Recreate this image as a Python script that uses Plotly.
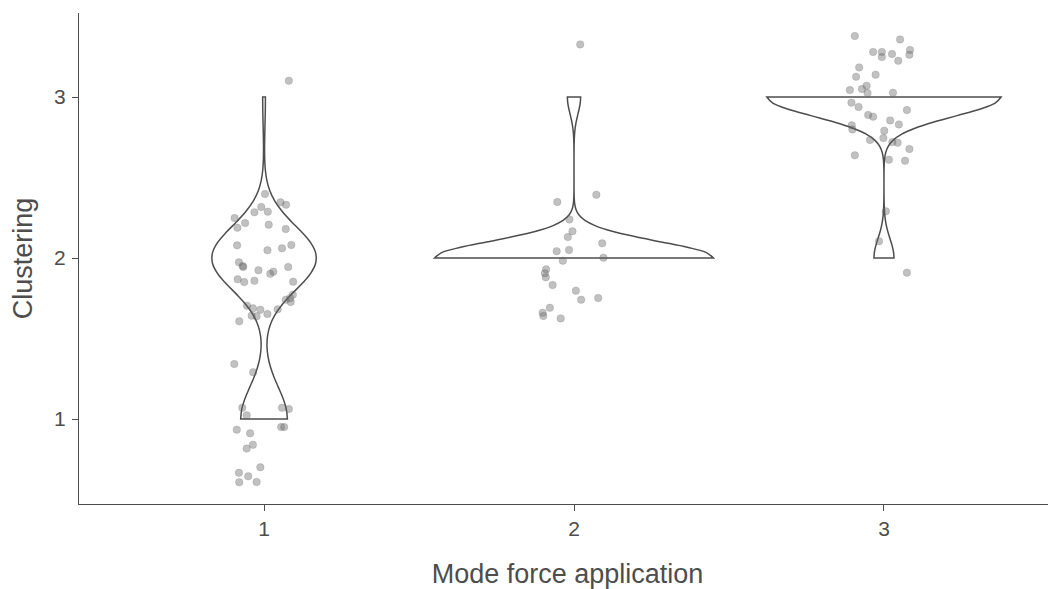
import numpy as np
import plotly.graph_objects as go

g1_x = [1.080, 1.003, 1.053, 1.071, 0.991, 0.969, 1.012, 0.905, 0.914, 0.939,
        1.015, 1.070, 0.913, 1.011, 1.058, 1.088, 0.919, 0.931, 0.933, 0.982,
        1.020, 1.030, 1.078, 0.915, 0.936, 0.969, 1.094, 1.093, 1.084, 1.070,
        1.086, 0.945, 0.964, 0.988, 1.044, 0.960, 0.976, 1.011, 0.920, 0.904,
        0.965, 0.930, 0.944, 1.058, 1.080, 0.912, 0.955, 1.055, 1.065, 0.964,
        0.944, 0.988, 0.919, 0.949, 0.920, 0.976]
g1_y = [3.101, 2.398, 2.346, 2.331, 2.317, 2.284, 2.288, 2.248, 2.188, 2.217,
        2.207, 2.180, 2.079, 2.048, 2.060, 2.081, 1.973, 1.950, 1.944, 1.924,
        1.902, 1.915, 1.944, 1.868, 1.851, 1.859, 1.853, 1.772, 1.750, 1.741,
        1.727, 1.704, 1.688, 1.679, 1.681, 1.642, 1.638, 1.652, 1.607, 1.342,
        1.290, 1.070, 1.023, 1.070, 1.062, 0.934, 0.911, 0.950, 0.950, 0.840,
        0.816, 0.700, 0.666, 0.644, 0.607, 0.609]

g2_x = [2.020, 2.072, 1.946, 1.985, 1.995, 1.980, 2.091, 1.944, 1.984, 2.095,
        1.964, 1.910, 1.906, 1.909, 1.931, 2.006, 2.023, 2.078, 1.922, 1.899,
        1.901, 1.957]
g2_y = [3.327, 2.393, 2.348, 2.240, 2.166, 2.130, 2.091, 2.042, 2.050, 2.002,
        1.983, 1.930, 1.905, 1.880, 1.832, 1.797, 1.741, 1.752, 1.691, 1.660,
        1.640, 1.625]

g3_x = [2.906, 3.052, 2.965, 2.993, 2.993, 3.026, 3.084, 3.082, 3.046, 2.920,
        2.973, 2.910, 2.944, 2.929, 2.890, 2.947, 3.029, 2.895, 2.918, 3.074,
        2.949, 2.965, 3.020, 3.048, 2.896, 2.898, 3.001, 2.998, 2.955, 3.027,
        3.044, 3.082, 2.906, 3.016, 3.068, 3.006, 2.984, 3.074]
g3_y = [3.379, 3.358, 3.280, 3.280, 3.248, 3.267, 3.292, 3.263, 3.225, 3.184,
        3.139, 3.126, 3.070, 3.050, 3.043, 3.025, 3.027, 2.965, 2.938, 2.919,
        2.888, 2.878, 2.855, 2.830, 2.824, 2.799, 2.791, 2.745, 2.733, 2.720,
        2.716, 2.677, 2.638, 2.611, 2.604, 2.290, 2.104, 1.909]

modes = [1, 2, 3]
tick_labels = ["1", "2", "3"]

GREY = "#4d4d4d"
FONT = "Liberation Sans"


def bw_nrd0(v):
    # same rule of thumb as R's density() default
    v = np.asarray(v, dtype=float)
    hi = np.std(v, ddof=1)
    q1, q3 = np.percentile(v, [25, 75])
    lo = min(hi, (q3 - q1) / 1.34)
    if not lo:
        lo = hi
    return 0.9 * lo * len(v) ** -0.2


def kde_max(v, bw):
    v = np.asarray(v, dtype=float)
    grid = np.linspace(v.min(), v.max(), 512)
    d = np.exp(-0.5 * ((grid[:, None] - v[None, :]) / bw) ** 2).sum(axis=1)
    return (d / (len(v) * bw * np.sqrt(2 * np.pi))).max()


groups = [(g1_x, g1_y), (g2_x, g2_y), (g3_x, g3_y)]
scores = [np.round(gy) for _, gy in groups]  # underlying integer scores
bws = [bw_nrd0(s) for s in scores]
peaks = [kde_max(s, b) for s, b in zip(scores, bws)]
top = max(peaks)

fig = go.Figure()

# equal-area violins: width proportional to each peak density
for mode, vals, bw, pk in zip(modes, scores, bws, peaks):
    fig.add_trace(go.Violin(
        x=[mode] * len(vals), y=vals,
        bandwidth=bw,
        spanmode="hard",
        scalemode="width",
        width=0.9 * pk / top,
        points=False,
        fillcolor="white",
        line=dict(color=GREY, width=1.5),
        hoverinfo="skip",
        showlegend=False,
    ))

for gx, gy in groups:
    fig.add_trace(go.Scatter(
        x=gx, y=gy, mode="markers",
        marker=dict(size=7.5, color="rgba(100,100,100,0.4)",
                    line=dict(width=0.6, color="rgba(90,90,90,0.3)")),
        hoverinfo="skip",
        showlegend=False,
    ))

axis_common = dict(
    showline=True, linecolor=GREY, linewidth=1.3,
    ticks="outside", ticklen=6, tickcolor=GREY, tickwidth=1.3,
    showgrid=False, zeroline=False, automargin=False,
    tickfont=dict(family=FONT, size=21, color=GREY),
)

# page body adds an 8px offset, so the figure is 8px smaller on top/left
fig.update_layout(
    width=1048, height=581,
    margin=dict(l=71, r=0, t=5, b=85),
    plot_bgcolor="white", paper_bgcolor="white",
    violinmode="overlay",
    font=dict(family=FONT, color=GREY),
    xaxis=dict(
        range=[0.403, 3.555], tickvals=modes, ticktext=tick_labels,
        title=dict(text="Mode force application", standoff=29,
                   font=dict(family=FONT, size=27, color=GREY)),
        **axis_common,
    ),
    yaxis=dict(
        range=[0.472, 3.522], tickvals=modes, ticktext=tick_labels,
        ticklabelstandoff=2,
        title=dict(text="Clustering", standoff=14,
                   font=dict(family=FONT, size=27, color=GREY)),
        **axis_common,
    ),
)

fig.write_html("out.html")
